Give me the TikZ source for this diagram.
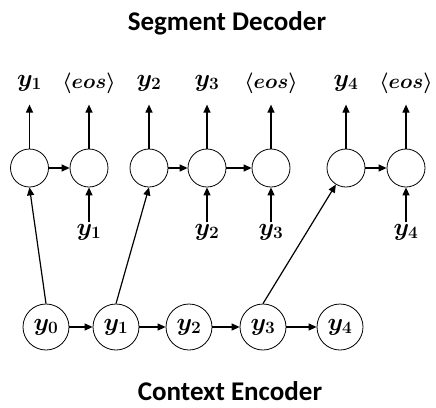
\documentclass[tikz,border=0pt]{standalone}
\usepackage{amsmath,bm}
\usepackage{fontspec}
\setmainfont{Carlito}
\usetikzlibrary{arrows.meta}
\begin{document}
\begin{tikzpicture}[x=1pt,y=-1pt,
  cell/.style={circle,draw,line width=0.8pt,minimum size=38pt,inner sep=0pt},
  enc/.style={circle,draw,line width=0.8pt,minimum size=46pt,inner sep=0pt,font=\fontsize{23}{26}\selectfont},
  lbl/.style={inner sep=0pt,font=\fontsize{24}{27}\selectfont},
  eos/.style={inner sep=0pt,font=\fontsize{22}{26}\selectfont},
  title/.style={inner sep=0pt,anchor=base,font=\fontsize{27}{30}\selectfont\bfseries},
  arr/.style={-{Triangle[length=8pt,width=7pt]},line width=1.2pt}]
\useasboundingbox (0,0) rectangle (436,407);
\node[title] (t1) at (227,30) {Segment Decoder};
\node[title] (t2) at (230,400) {Context Encoder};
% decoder cells
\foreach \n/\x in {d1/29.5,d2/89,d3/149,d4/207,d5/271,d6/346,d7/406}
  \node[cell] (\n) at (\x,168) {};
% output labels
\node[lbl] (o1) at (29.5,83) {$\bm{y_1}$};
\node[eos] (o2) at (89,83) {$\bm{\langle eos\rangle}$};
\node[lbl] (o3) at (149,83) {$\bm{y_2}$};
\node[lbl] (o4) at (207,83) {$\bm{y_3}$};
\node[eos] (o5) at (271,83) {$\bm{\langle eos\rangle}$};
\node[lbl] (o6) at (346,83) {$\bm{y_4}$};
\node[eos] (o7) at (406,83) {$\bm{\langle eos\rangle}$};
\foreach \i in {1,...,7}
  \draw[arr] (d\i.north) -- ++(0,-44);
% horizontal
\draw[arr] (d1) -- (d2);
\draw[arr] (d3) -- (d4);
\draw[arr] (d4) -- (d5);
\draw[arr] (d6) -- (d7);
% inputs
\node[lbl] (i2) at (89,232) {$\bm{y_1}$};
\node[lbl] (i4) at (207,232) {$\bm{y_2}$};
\node[lbl] (i5) at (271,232) {$\bm{y_3}$};
\node[lbl] (i7) at (406,232) {$\bm{y_4}$};
\foreach \a/\b in {i2/d2,i4/d4,i5/d5,i7/d7}
  \draw[arr] (\a.north) ++(0,-2) -- (\b.south);
% encoder
\node[enc] (e0) at (46,327) {$\bm{y_0}$};
\node[enc] (e1) at (116,327) {$\bm{y_1}$};
\node[enc] (e2) at (189,327) {$\bm{y_2}$};
\node[enc] (e3) at (263,327) {$\bm{y_3}$};
\node[enc] (e4) at (340,327) {$\bm{y_4}$};
\draw[arr] (e0) -- (e1);
\draw[arr] (e1) -- (e2);
\draw[arr] (e2) -- (e3);
\draw[arr] (e3) -- (e4);
\draw[arr] (e0.north) -- (d1.south);
\draw[arr] (e1.north) -- (d3.south);
\draw[arr] (e3.north) -- (d6);
\end{tikzpicture}
\end{document}
